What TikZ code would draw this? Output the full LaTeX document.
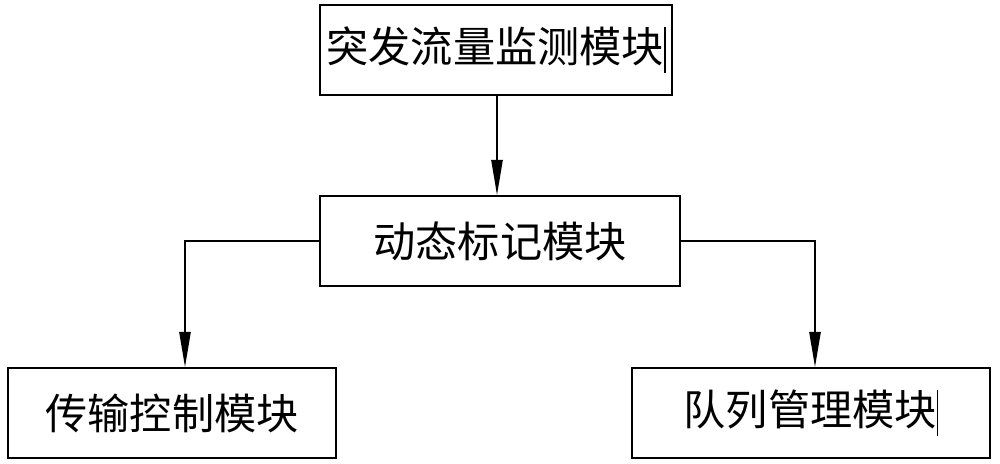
\documentclass[tikz,border=0pt]{standalone}
\usepackage{fontspec}
\newfontfamily\cjk{Noto Sans CJK SC}
\usetikzlibrary{arrows.meta}
\begin{document}
\begin{tikzpicture}[x=0.01cm,y=-0.01cm,
  box/.style={draw,line width=0.5pt,inner sep=0pt,font=\cjk\fontsize{12}{14}\selectfont},
  conn/.style={line width=0.5pt,-{Triangle[length=10pt,width=3.2pt]}}]
\useasboundingbox (0,0) rectangle (1000,464);
\node[box,minimum width=352\pgflinewidth] (a) at (496,50) [minimum width=3.52cm,minimum height=0.9cm] {突发流量监测模块\rule[-0.25em]{0.4pt}{1.1em}};
\node[box,minimum width=3.6cm,minimum height=0.9cm] (b) at (500,241) {动态标记模块};
\node[box,minimum width=3.28cm,minimum height=0.9cm] (c) at (172,413) {传输控制模块};
\node[box,minimum width=3.58cm,minimum height=0.9cm] (d) at (811,413) {队列管理模块\rule[-0.25em]{0.4pt}{1.1em}};
\draw[conn] (a.south -| 497,0) -- (b.north -| 497,0);
\draw[conn] (b.west) -- (185,241) -- (c.north -| 185,0);
\draw[conn] (b.east) -- (815,241) -- (d.north -| 815,0);
\end{tikzpicture}
\end{document}
